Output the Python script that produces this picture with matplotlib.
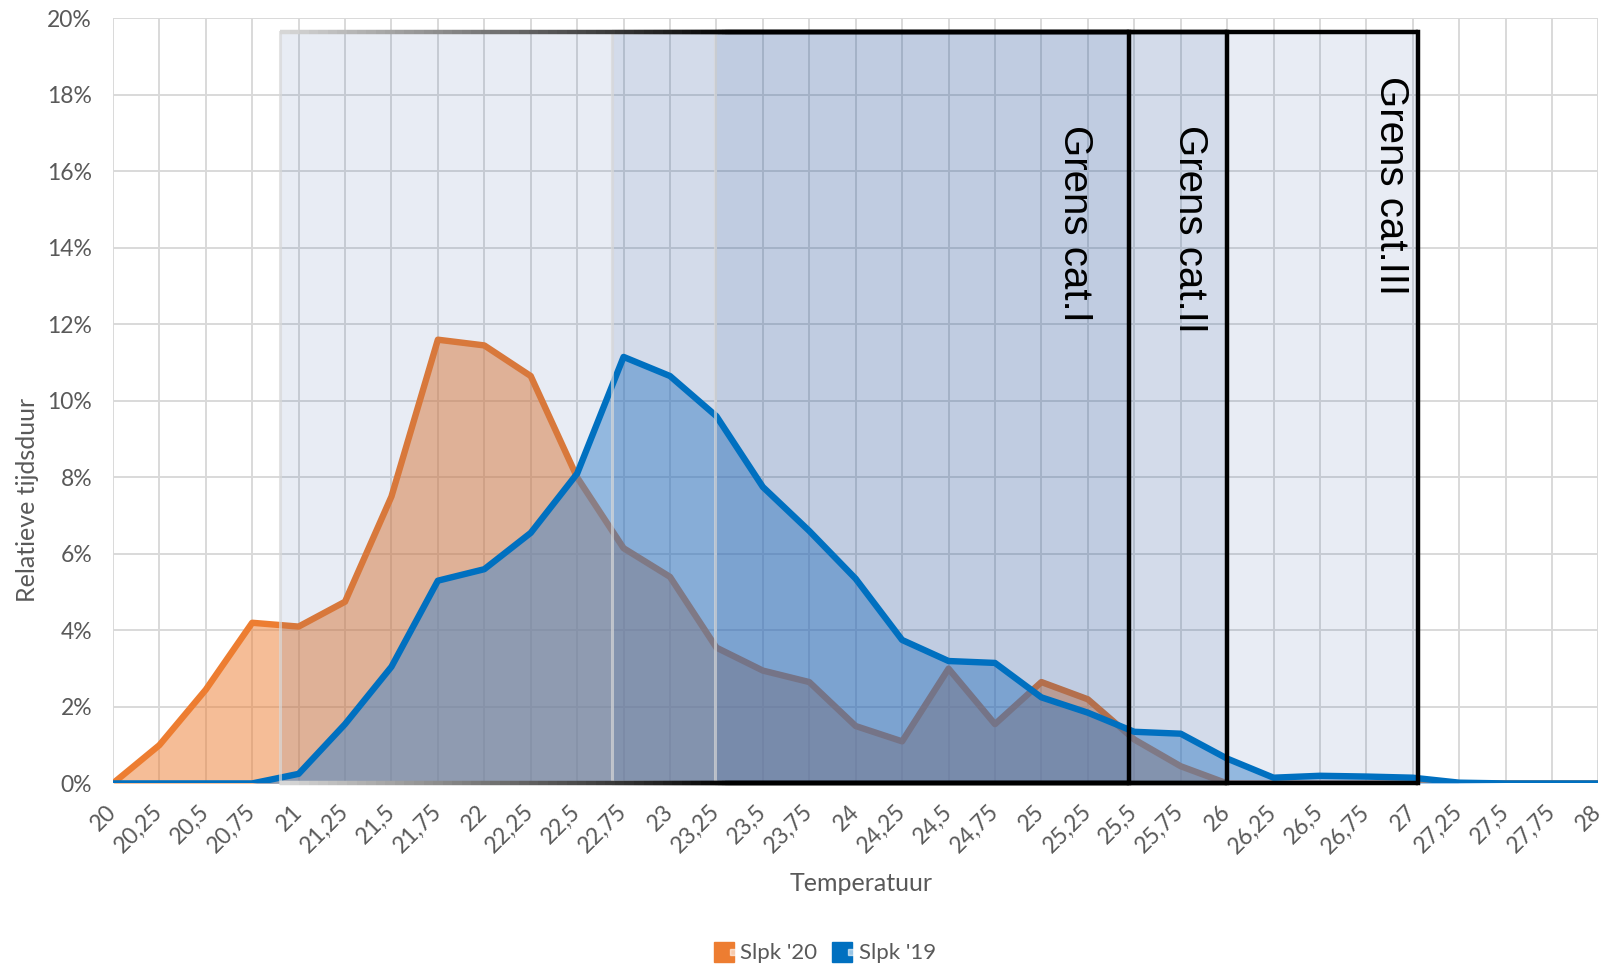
import numpy as np
import matplotlib
matplotlib.use("Agg")
import matplotlib.pyplot as plt
from matplotlib.collections import LineCollection
from matplotlib.lines import Line2D
from matplotlib.legend_handler import HandlerTuple
from matplotlib.patches import Rectangle
from matplotlib.ticker import PercentFormatter

plt.rcParams['font.family'] = ['Lato', 'DejaVu Sans']

# temperature classes (x axis) and relative duration in %
temps = [20, 20.25, 20.5, 20.75, 21, 21.25, 21.5, 21.75, 22, 22.25, 22.5,
         22.75, 23, 23.25, 23.5, 23.75, 24, 24.25, 24.5, 24.75, 25, 25.25,
         25.5, 25.75, 26, 26.25, 26.5, 26.75, 27, 27.25, 27.5, 27.75, 28]
slpk20 = [0.0, 1.0, 2.45, 4.2, 4.1, 4.75, 7.5, 11.6, 11.45, 10.65, 8.0,
          6.15, 5.4, 3.55, 2.95, 2.65, 1.5, 1.1, 3.0, 1.55, 2.65, 2.2,
          1.15, 0.45, 0.0, 0.0, 0.0, 0.0, 0.0, 0.0, 0.0, 0.0, 0.0]
slpk19 = [0.0, 0.0, 0.0, 0.0, 0.25, 1.55, 3.05, 5.3, 5.6, 6.55, 8.1,
          11.15, 10.65, 9.6, 7.75, 6.6, 5.35, 3.75, 3.2, 3.15, 2.25, 1.85,
          1.35, 1.3, 0.65, 0.15, 0.2, 0.18, 0.15, 0.02, 0.0, 0.0, 0.0]

# comfort category boxes
cat_labels = ["Grens cat.I", "Grens cat.II", "Grens cat.III"]
cat_left = [23.24, 22.69, 20.9]
cat_right = [25.47, 26.0, 27.03]
cat_top = [19.65, 19.65, 19.65]
label_x = [25.18, 25.8, 26.88]
label_y = [17.2, 17.2, 18.5]

grey = '#595959'
orange = '#ED7D31'
blue = '#0070C0'

fig = plt.figure(figsize=(16.13, 9.66), dpi=100)
ax = fig.add_axes([0.070, 0.189, 0.921, 0.792])

ax.fill_between(temps, slpk20, color=orange, alpha=0.5, lw=0, zorder=2)
ax.plot(temps, slpk20, color=orange, lw=4.6, zorder=3)
ax.fill_between(temps, slpk19, color='#448CD2', alpha=0.5, lw=0, zorder=4)
ax.plot(temps, slpk19, color=blue, lw=4.6, zorder=6)

light = np.array([0.84, 0.84, 0.84])
dark = np.array([0.0, 0.0, 0.0])
grad_end = 23.3

for left, right, top in zip(cat_left, cat_right, cat_top):
    ax.add_patch(Rectangle((left, 0), right - left, top, facecolor='#1F4E99',
                           alpha=0.1, lw=0, zorder=5))
    # left edge is faded, top/bottom fade from grey to black
    ax.plot([left, left], [0, top], color='#D8D8D8', lw=2.2, alpha=0.7,
            zorder=7, clip_on=False)
    ax.plot([right, right], [0, top], color='black', lw=3.2, zorder=7,
            clip_on=False)
    xs = np.linspace(left, right, 120)
    end = max(grad_end, left + 0.05)
    t = np.clip((xs[:-1] - left) / (end - left), 0, 1)[:, None]
    cols = light * (1 - t) + dark * t
    for yy in (0, top):
        segs = [[(xs[i], yy), (xs[i + 1], yy)] for i in range(len(xs) - 1)]
        lc = LineCollection(segs, colors=cols, lw=3.2, zorder=7,
                            capstyle='butt')
        lc.set_clip_on(False)
        ax.add_collection(lc)

for lx, ly, lab in zip(label_x, label_y, cat_labels):
    ax.text(lx, ly, lab, rotation=270, ha='center', va='top', fontsize=29,
            family=['Liberation Sans', 'DejaVu Sans'], color='black',
            zorder=8)

ax.set_xlim(20, 28)
ax.set_ylim(0, 20)
ax.set_xticks(temps)
ax.set_xticklabels([f"{t:g}".replace('.', ',') for t in temps], rotation=45,
                   ha='right', va='center', rotation_mode='anchor',
                   fontsize=16.5, color=grey)
ax.set_yticks(range(0, 21, 2))
ax.yaxis.set_major_formatter(PercentFormatter(decimals=0))
ax.tick_params(axis='y', labelsize=16.5, labelcolor=grey, length=0, pad=15)
ax.tick_params(axis='x', length=0, pad=18)
ax.grid(True, color='#D9D9D9', lw=1.4)
ax.set_axisbelow(True)
for s in ax.spines.values():
    s.set_visible(False)

fig.text(0.534, 0.085, "Temperatuur", ha='center', va='center', fontsize=18,
         color=grey)
fig.text(0.017, 0.482, "Relatieve tijdsduur", ha='center', va='center',
         rotation=90, fontsize=18, color=grey)

def legend_marker(col):
    box = Line2D([], [], marker='s', ms=15, color=col, ls='')
    dot = Line2D([], [], marker='s', ms=4, color='white', alpha=0.6, ls='')
    return (box, dot)

handles = [legend_marker(orange), legend_marker(blue)]
leg = fig.legend(handles, ["Slpk '20", "Slpk '19"], loc='center',
                 bbox_to_anchor=(0.513, 0.013), ncol=2, frameon=False,
                 fontsize=16, handlelength=0.8, handletextpad=0.15,
                 columnspacing=0.9,
                 handler_map={tuple: HandlerTuple(ndivide=None, pad=0)})
for txt in leg.get_texts():
    txt.set_color(grey)

fig.savefig("out.png", dpi=100)
